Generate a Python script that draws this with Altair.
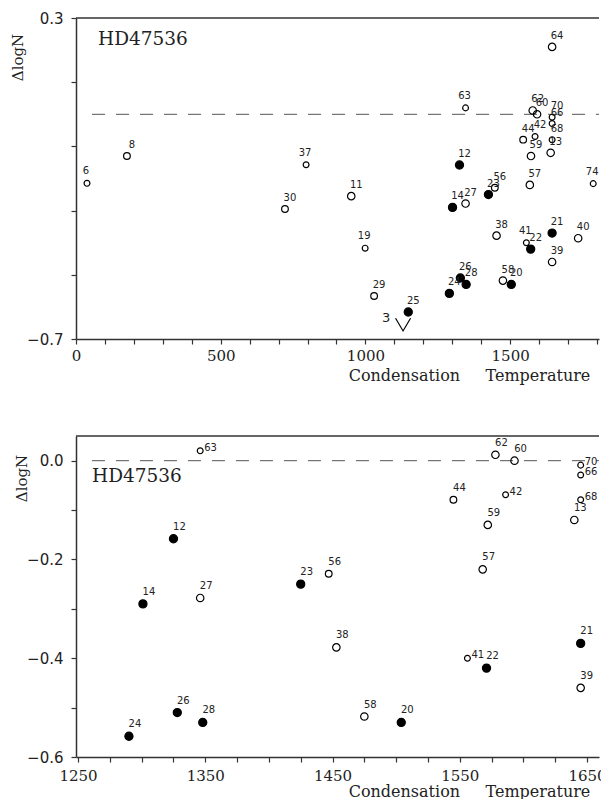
import altair as alt
import pandas as pd

# ---------------- data ----------------
ids = ["6", "8", "30", "37", "11", "19", "29", "25", "24", "26", "28", "14", "27",
       "12", "23", "56", "63", "64", "62", "60", "70", "66", "68", "13", "44", "42",
       "59", "57", "74", "38", "41", "22", "21", "40", "39", "58", "20"]
temps = [38, 176, 722, 795, 951, 999, 1030, 1148, 1290, 1328, 1348, 1301, 1346,
         1325, 1425, 1447, 1346, 1645, 1578, 1593, 1645, 1645, 1645, 1640, 1545, 1586,
         1572, 1568, 1787, 1453, 1556, 1571, 1645, 1735, 1645, 1475, 1504]
dlogn = [-0.215, -0.13, -0.295, -0.157, -0.255, -0.417, -0.566, -0.616, -0.558, -0.51,
         -0.53, -0.29, -0.278, -0.158, -0.25, -0.229, 0.02, 0.21, 0.012, 0.0, -0.009,
         -0.029, -0.079, -0.12, -0.079, -0.069, -0.13, -0.22, -0.216, -0.378, -0.4,
         -0.42, -0.37, -0.386, -0.46, -0.518, -0.53]
# symbol class: open small / open medium / open large / filled
kinds = ["s", "m", "m", "s", "l", "s", "m", "f", "f", "f", "f", "f", "l",
         "f", "f", "m", "s", "l", "l", "l", "s", "s", "s", "l", "m", "s",
         "l", "l", "s", "l", "s", "f", "f", "l", "l", "l", "f"]

# upper limit (V symbol)
limit_ids = ["3"]
limit_temps = [1130]
limit_dlogn = [-0.655]

star = "HD47536"
xtitle = "Condensation\u00a0\u00a0\u00a0\u00a0\u00a0Temperature"
ytitle = "\u0394logN"

top_xticks = list(range(0, 1801, 100))
top_yticks = [round(-0.7 + 0.1 * i, 1) for i in range(11)]
bot_xticks = list(range(1250, 1651, 25))
bot_yticks = [round(-0.1 * i, 1) for i in range(7)]

# labels of the upper panel drawn centred straight above their symbol
top_centered_labels = ["6", "19", "63", "74", "37", "41"]

df = pd.DataFrame({"id": ids, "T": temps, "d": dlogn, "k": kinds})
dl = pd.DataFrame({"id": limit_ids, "T": limit_temps, "d": limit_dlogn})
dstar = pd.DataFrame({"t": [star]})

KDOM = ["s", "m", "l", "f"]
size_scale = alt.Scale(domain=KDOM, range=[34, 66, 128, 155])
fill_scale = alt.Scale(domain=KDOM, range=["transparent", "transparent", "transparent", "black"])

W = 523
H = 321
INK = "#222"


def in_list(field, values):
    return "indexof([" + ",".join("'%s'" % v for v in values) + "], datum.%s) >= 0" % field


def panel(xdom, ydom, xticks, xlabexpr, yticks, ylabexpr, ytitle_y, ytitle_x,
          star_x, star_y, xtitle_y, xlabpad, data_filter=None, bottom_style=False,
          with_limit=False):
    xenc = alt.X("T:Q", scale=alt.Scale(domain=xdom, nice=False, zero=False),
                 axis=alt.Axis(values=xticks, labelExpr=xlabexpr, format="d",
                               title=xtitle, titleX=393, titleY=xtitle_y,
                               titleAlign="center", titleBaseline="alphabetic",
                               titleFont="DejaVu Serif", titleFontSize=16,
                               titleFontWeight="normal", titleColor=INK,
                               labelFont="DejaVu Serif", labelFontSize=15,
                               labelColor=INK, labelPadding=xlabpad, labelFlush=False,
                               labelOverlap=False, ticks=True))
    yenc = alt.Y("d:Q", scale=alt.Scale(domain=ydom, nice=False, zero=False),
                 axis=alt.Axis(values=yticks, labelExpr=ylabexpr, format=".1f",
                               title=ytitle, titleAngle=270, titleX=ytitle_x,
                               titleY=ytitle_y, titleAlign="center",
                               titleBaseline="alphabetic", titleFont="DejaVu Serif",
                               titleFontSize=15, titleFontWeight="normal",
                               titleColor=INK, labelFont="DejaVu Sans",
                               labelFontSize=15, labelColor=INK, labelPadding=8,
                               labelFlush=False, labelOverlap=False, ticks=True))
    base = alt.Chart(df)
    if data_filter:
        base = base.transform_filter(data_filter)

    border = alt.Chart(dstar).mark_rule(color="#333", strokeWidth=1.5).encode(
        x=alt.value(0), x2=alt.value(W), y=alt.value(0))
    zero = alt.Chart(dstar).mark_rule(color="#555", strokeWidth=1,
                                      strokeDash=[13, 11]).encode(
        x=alt.value(16), x2=alt.value(W), y=alt.datum(0))
    pts = base.mark_point(shape="circle", filled=True, stroke="black",
                          strokeWidth=1.2, opacity=1).encode(
        x=xenc, y=yenc,
        size=alt.Size("k:N", scale=size_scale, legend=None),
        fill=alt.Fill("k:N", scale=fill_scale, legend=None))
    layers = [border, zero, pts]
    txt = dict(font="DejaVu Sans", fontSize=10, baseline="middle", color=INK)
    if bottom_style:
        lab_big = base.transform_filter("datum.k != 's'").mark_text(
            dx=6, dy=-12, align="center", **txt).encode(x=xenc, y=yenc, text="id:N")
        lab_small = base.transform_filter("datum.k == 's'").mark_text(
            dx=4, dy=-3, align="left", **txt).encode(x=xenc, y=yenc, text="id:N")
        layers += [lab_big, lab_small]
    else:
        cond = in_list("id", top_centered_labels)
        lab = base.transform_filter("!(" + cond + ")").mark_text(
            dx=5, dy=-11, align="center", **txt).encode(x=xenc, y=yenc, text="id:N")
        lab_c = base.transform_filter(cond).mark_text(
            dx=-1, dy=-12, align="center", **txt).encode(x=xenc, y=yenc, text="id:N")
        layers += [lab, lab_c]
    if with_limit:
        lim = alt.Chart(dl).mark_point(shape="M-1,-0.85L0,0.85L1,-0.85", filled=False,
                                       stroke="black", strokeWidth=1.2, size=225,
                                       opacity=1).encode(x=xenc, y=yenc)
        limlab = alt.Chart(dl).mark_text(font="DejaVu Sans", fontSize=13, dx=-17,
                                         dy=-7, align="center", baseline="middle",
                                         color=INK).encode(x=xenc, y=yenc, text="id:N")
        layers += [lim, limlab]
    st = alt.Chart(dstar).mark_text(font="DejaVu Serif", fontSize=18.5, align="left",
                                    baseline="alphabetic", color=INK).encode(
        text="t:N", x=alt.value(star_x), y=alt.value(star_y))
    layers.append(st)
    return alt.layer(*layers).properties(width=W, height=H)


top = panel(
    [0, 1807], [-0.7, 0.3], top_xticks,
    "datum.value % 500 == 0 ? datum.label : ''",
    top_yticks,
    "abs(datum.value-0.3)<1e-6 || abs(datum.value+0.2)<1e-6 || abs(datum.value+0.7)<1e-6 ? datum.label : ''",
    39, -54, 22, 27, 41, 4, with_limit=True)

bottom = panel(
    [1248.4, 1659.4], [-0.6, 0.05], bot_xticks,
    "(datum.value - 1250) % 100 == 0 ? datum.label : ''",
    bot_yticks,
    "abs(round(datum.value*10)) % 2 == 0 ? datum.label : ''",
    42, -50, 16, 46, 39, 6,
    data_filter="datum.T >= 1249 && datum.T <= 1660 && datum.d <= 0.05 && datum.d >= -0.6",
    bottom_style=True)

chart = alt.vconcat(top, bottom, spacing=97, bounds="flush").properties(
    padding={"left": 10, "top": 11, "right": -6, "bottom": 3}
).configure_view(stroke=None).configure_axis(
    grid=False, domainColor="#333", domainWidth=1.5, tickColor="#333",
    tickWidth=1.2, tickSize=5
)

chart.save("out.html", embed_options={"renderer": "svg", "actions": False})
